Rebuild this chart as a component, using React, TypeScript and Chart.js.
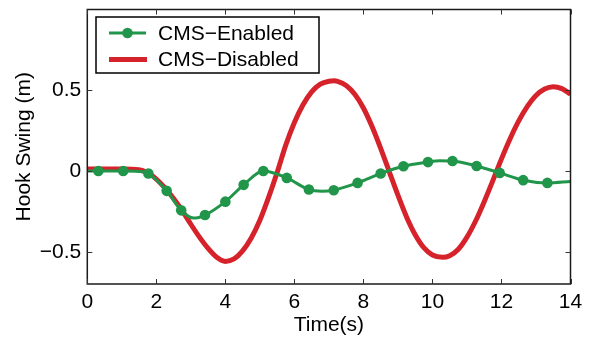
import React, { useEffect, useRef } from "react";
import { Chart, registerables } from "chart.js";

Chart.register(...registerables);

// ---- data ----
const seriesNames = ["CMS−Enabled", "CMS−Disabled"];
const xTickValues = [0, 2, 4, 6, 8, 10, 12, 14];
const yTickValues = [-0.5, 0, 0.5];

const disabledTime = [
  0, 0.5, 1.0, 1.5, 1.75, 2.0, 2.25, 2.5, 2.75, 3.0, 3.25, 3.5, 3.75, 4.0, 4.25, 4.5,
  4.75, 5.0, 5.25, 5.5, 5.75, 6.0, 6.25, 6.5, 6.75, 7.0, 7.15, 7.25, 7.5, 7.75, 8.0,
  8.25, 8.5, 8.75, 9.0, 9.25, 9.5, 9.75, 10.0, 10.3, 10.5, 10.75, 11.0, 11.25, 11.5,
  11.75, 12.0, 12.25, 12.5, 12.75, 13.0, 13.25, 13.5, 13.75, 14.0,
];
const disabledSwing = [
  0.012, 0.012, 0.012, 0.008, -0.012, -0.05, -0.105, -0.17, -0.245, -0.33, -0.41, -0.48,
  -0.535, -0.56, -0.545, -0.495, -0.415, -0.305, -0.165, -0.01, 0.16, 0.3, 0.41, 0.49,
  0.538, 0.556, 0.558, 0.555, 0.53, 0.475, 0.39, 0.275, 0.14, -0.005, -0.15, -0.285,
  -0.395, -0.475, -0.52, -0.535, -0.525, -0.485, -0.41, -0.31, -0.19, -0.06, 0.075,
  0.2, 0.31, 0.4, 0.468, 0.508, 0.522, 0.51, 0.476,
];

const enabledMarkerTime = [
  0.32, 1.04, 1.77, 2.3, 2.72, 3.41, 4.0, 4.53, 5.1, 5.78, 6.42, 7.14, 7.83, 8.5, 9.16,
  9.87, 10.58, 11.28, 11.95, 12.63, 13.33,
];
const enabledMarkerSwing = [
  0.0, 0.0, -0.016, -0.123, -0.244, -0.273, -0.19, -0.086, 0.0, -0.043, -0.115, -0.119,
  -0.074, -0.016, 0.029, 0.055, 0.062, 0.031, -0.012, -0.057, -0.074,
];
const enabledExtraTime = [0, 1.5, 3.08, 6.8, 10.2, 14.0];
const enabledExtraSwing = [0.0, -0.003, -0.292, -0.125, 0.064, -0.065];

const GREEN = "#21964a";
const RED = "#d6232b";
const FONT = "'Liberation Sans', Arial, Helvetica, sans-serif";
const FS = 21;

const toPoints = (t: number[], v: number[]) => t.map((x, i) => ({ x, y: v[i] }));

const framePlugin = {
  id: "frameAndLegend",
  afterDatasetsDraw(chart: any) {
    const { ctx, chartArea: a, scales } = chart;
    const xs = scales.x;
    const ys = scales.y;
    ctx.save();
    // axes box
    ctx.strokeStyle = "#1a1a1a";
    ctx.lineWidth = 1.5;
    ctx.strokeRect(a.left, a.top, a.right - a.left, a.bottom - a.top);
    // inward ticks on all four sides
    const L = 5;
    ctx.lineWidth = 1;
    ctx.strokeStyle = "#333";
    ctx.beginPath();
    xTickValues.forEach((v) => {
      const px = Math.round(xs.getPixelForValue(v)) + 0.5;
      ctx.moveTo(px, a.bottom);
      ctx.lineTo(px, a.bottom - L);
      ctx.moveTo(px, a.top);
      ctx.lineTo(px, a.top + L);
    });
    yTickValues.forEach((v) => {
      const py = Math.round(ys.getPixelForValue(v)) + 0.5;
      ctx.moveTo(a.left, py);
      ctx.lineTo(a.left + L, py);
      ctx.moveTo(a.right, py);
      ctx.lineTo(a.right - L, py);
    });
    ctx.stroke();

    // legend box
    const bx = 96, by = 17, bw = 223, bh = 56;
    ctx.fillStyle = "#fff";
    ctx.fillRect(bx, by, bw, bh);
    ctx.strokeStyle = "#000";
    ctx.lineWidth = 1.5;
    ctx.strokeRect(bx, by, bw, bh);
    const rows = [33, 59.5];
    ctx.font = `${FS}px ${FONT}`;
    ctx.textBaseline = "middle";
    ctx.textAlign = "left";
    // row 1: enabled
    ctx.strokeStyle = GREEN;
    ctx.lineWidth = 3;
    ctx.beginPath();
    ctx.moveTo(109, rows[0]);
    ctx.lineTo(146, rows[0]);
    ctx.stroke();
    ctx.fillStyle = GREEN;
    ctx.beginPath();
    ctx.arc(127.5, rows[0], 5.3, 0, Math.PI * 2);
    ctx.fill();
    // row 2: disabled
    ctx.strokeStyle = RED;
    ctx.lineWidth = 5;
    ctx.beginPath();
    ctx.moveTo(109, rows[1]);
    ctx.lineTo(147, rows[1]);
    ctx.stroke();
    ctx.fillStyle = "#000";
    ctx.fillText(seriesNames[0], 158, rows[0] + 1);
    ctx.fillText(seriesNames[1], 158, rows[1] + 1);
    ctx.restore();
  },
};

export default function App() {
  const ref = useRef<HTMLCanvasElement | null>(null);
  useEffect(() => {
    if (!ref.current) return;
    Chart.defaults.font.family = FONT;
    Chart.defaults.color = "#000";
    const enabledLine = toPoints(
      enabledMarkerTime.concat(enabledExtraTime),
      enabledMarkerSwing.concat(enabledExtraSwing)
    ).sort((p, q) => p.x - q.x);

    const chart = new Chart(ref.current, {
      type: "line",
      data: {
        datasets: [
          {
            label: seriesNames[0] + " markers",
            data: toPoints(enabledMarkerTime, enabledMarkerSwing),
            showLine: false,
            pointRadius: 5.3,
            pointBackgroundColor: GREEN,
            pointBorderWidth: 0,
            borderColor: GREEN,
          },
          {
            label: seriesNames[0],
            data: enabledLine,
            borderColor: GREEN,
            borderWidth: 3,
            pointRadius: 0,
            cubicInterpolationMode: "monotone",
          },
          {
            label: seriesNames[1],
            data: toPoints(disabledTime, disabledSwing),
            borderColor: RED,
            borderWidth: 5,
            pointRadius: 0,
            cubicInterpolationMode: "monotone",
            clip: 0,
          },
        ],
      },
      options: {
        animation: false,
        responsive: false,
        events: [],
        layout: { padding: { top: 9.5, right: 21.5, bottom: 0, left: 0 } },
        plugins: { legend: { display: false }, tooltip: { enabled: false } },
        scales: {
          x: {
            type: "linear",
            min: 0,
            max: 14,
            grid: { display: false, drawTicks: false },
            border: { display: false },
            afterBuildTicks: (s: any) => {
              s.ticks = xTickValues.map((value) => ({ value }));
            },
            afterFit: (s: any) => {
              s.height = 54;
              s.paddingLeft = 0;
              s.paddingRight = 0;
            },
            ticks: { font: { size: FS }, padding: 6, maxRotation: 0, autoSkip: false },
            title: {
              display: true,
              text: "Time(s)",
              font: { size: FS },
              padding: { top: 0, bottom: 0 },
            },
          },
          y: {
            type: "linear",
            min: -0.7,
            max: 1.0,
            grid: { display: false, drawTicks: false },
            border: { display: false },
            afterBuildTicks: (s: any) => {
              s.ticks = yTickValues.map((value) => ({ value }));
            },
            afterFit: (s: any) => {
              s.width = 87.3;
              s.paddingTop = 0;
              s.paddingBottom = 0;
            },
            ticks: {
              font: { size: FS },
              padding: 6,
              callback: (v: any) => String(v).replace("-", "−"),
            },
            title: {
              display: true,
              text: "Hook Swing (m)",
              font: { size: FS },
              padding: { top: 11.5, bottom: 0 },
            },
          },
        },
      },
      plugins: [framePlugin],
    });
    return () => chart.destroy();
  }, []);

  return (
    <div style={{ position: "absolute", left: 0, top: 0, width: 592, height: 338, background: "#fff" }}>
      <canvas ref={ref} width={592} height={338} />
    </div>
  );
}
